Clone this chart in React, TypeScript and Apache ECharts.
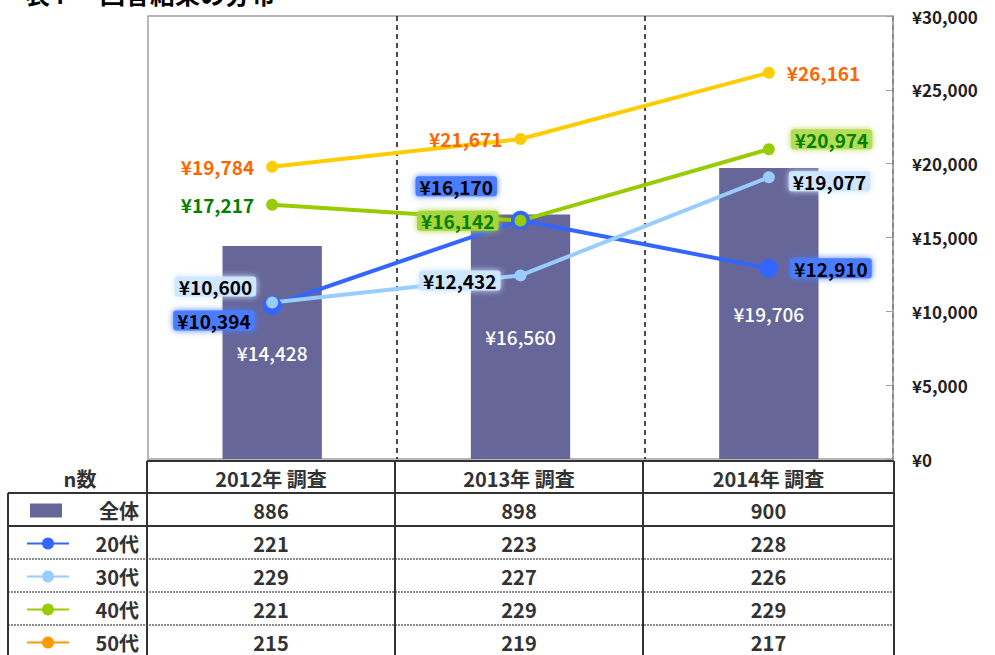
import React, { useEffect, useRef } from "react";
import * as echarts from "echarts";

const categories = ["2012年 調査", "2013年 調査", "2014年 調査"];
const overall = [14428, 16560, 19706];
const age20 = [10394, 16170, 12910];
const age30 = [10600, 12432, 19077];
const age40 = [17217, 16142, 20974];
const age50 = [19784, 21671, 26161];

const tableRowNames = ["全体", "20代", "30代", "40代", "50代"];
const nOverall = [886, 898, 900];
const n20 = [221, 223, 228];
const n30 = [229, 227, 226];
const n40 = [221, 229, 229];
const n50 = [215, 219, 217];

const FONT = '"Noto Sans CJK JP", "Noto Sans", sans-serif';
const BAR_COLOR = "#666699";
const C20 = "#3366FF";
const C30 = "#99CCFF";
const C40 = "#99CC00";
const C50 = "#FFCC00";

const GRID_L = 148;
const GRID_R = 893;
const GRID_T = 16;
const GRID_B = 459;

const yen = (v: number) => "¥" + v.toLocaleString("en-US");

type LabelPlace = { position: string; offset?: number[]; distance?: number; bg?: string; color: string };

const place50: LabelPlace[] = [
  { position: "left", distance: 12, color: "#FF6600" },
  { position: "left", distance: 12, color: "#FF6600" },
  { position: "right", distance: 12, color: "#FF6600" },
];
const place40: LabelPlace[] = [
  { position: "left", distance: 12, color: "#008000" },
  { position: "left", distance: 16, color: "#008000", bg: "#A8D43C" },
  { position: "right", distance: 16, offset: [0, -10], color: "#008000", bg: "#B5DC55" },
];
const place30: LabelPlace[] = [
  { position: "left", distance: 10, offset: [0, -16], color: "#000", bg: "#CFE6FF" },
  { position: "left", distance: 14, offset: [0, 5], color: "#000", bg: "#CFE6FF" },
  { position: "right", distance: 14, offset: [0, 4], color: "#000", bg: "#CFE6FF" },
];
const place20: LabelPlace[] = [
  { position: "left", distance: 8, offset: [0, 15], color: "#000", bg: "#4A7BFF" },
  { position: "left", distance: 14, offset: [0, -34], color: "#000", bg: "#4A7BFF" },
  { position: "right", distance: 12, color: "#000", bg: "#4A7BFF" },
];

function lineData(values: number[], places: LabelPlace[]) {
  return values.map((v, i) => {
    const p = places[i];
    const label: any = {
      show: true,
      position: p.position,
      distance: p.distance,
      offset: p.offset || [0, 0],
      color: p.color,
      fontFamily: FONT,
      fontWeight: "bold",
      fontSize: 19,
      formatter: (d: any) => yen(d.value),
    };
    if (p.bg) {
      label.backgroundColor = p.bg;
      label.padding = [1, 4, 0, 4];
      label.borderRadius = 3;
      label.shadowBlur = 6;
      label.shadowColor = p.bg;
    }
    return { value: v, label };
  });
}

function lineSeries(name: string, color: string, values: number[], places: LabelPlace[], size: number) {
  return {
    name,
    type: "line",
    data: lineData(values, places),
    symbol: "circle",
    symbolSize: size,
    itemStyle: { color },
    lineStyle: { color, width: 4 },
    z: 3,
  };
}

function buildTable() {
  const els: any[] = [];
  const dark = "#333333";
  const colX = [GRID_L - 1, 395, 643, GRID_R + 1];
  const headerTop = 461;
  const rowTops = [493, 526, 559, 592, 625, 658];
  const left = 8;
  const textStyle = { fontFamily: FONT, fontWeight: "bold", fontSize: 20, lineHeight: 20, fill: "#333" };

  // title (cut off at the top of the page, as in the reference)
  els.push({ type: "text", x: 25, y: 5, style: { text: "表4", font: `bold 25px ${FONT}`, fill: "#000", verticalAlign: "bottom" } });
  els.push({ type: "text", x: 100, y: 5, style: { text: "回答結果の分布", font: `bold 25px ${FONT}`, fill: "#000", verticalAlign: "bottom" } });

  // header
  els.push({ type: "line", shape: { x1: colX[0], y1: headerTop, x2: colX[3], y2: headerTop }, style: { stroke: dark, lineWidth: 2 } });
  els.push({ type: "text", x: 80, y: (headerTop + rowTops[0]) / 2 + 1, style: { ...textStyle, text: "n数", align: "center", verticalAlign: "middle" } });
  categories.forEach((c, i) => {
    els.push({ type: "text", x: (colX[i] + colX[i + 1]) / 2, y: (headerTop + rowTops[0]) / 2 + 1, style: { ...textStyle, text: c, align: "center", verticalAlign: "middle" } });
  });

  // horizontal lines
  els.push({ type: "line", shape: { x1: left, y1: rowTops[0], x2: colX[3], y2: rowTops[0] }, style: { stroke: dark, lineWidth: 2 } });
  els.push({ type: "line", shape: { x1: left, y1: rowTops[1], x2: colX[3], y2: rowTops[1] }, style: { stroke: dark, lineWidth: 2 } });
  for (let r = 2; r <= 4; r++) {
    els.push({ type: "line", shape: { x1: left, y1: rowTops[r], x2: colX[3], y2: rowTops[r] }, style: { stroke: "#8a8a8a", lineWidth: 2, lineDash: [2, 1] } });
  }
  // vertical lines
  els.push({ type: "line", shape: { x1: left, y1: rowTops[0], x2: left, y2: 660 }, style: { stroke: dark, lineWidth: 2 } });
  colX.forEach((x) => {
    els.push({ type: "line", shape: { x1: x, y1: headerTop, x2: x, y2: 660 }, style: { stroke: dark, lineWidth: 2 } });
  });

  const rows = [nOverall, n20, n30, n40, n50];
  const rowColors = [BAR_COLOR, C20, C30, C40, "#FF9900"];
  rows.forEach((vals, r) => {
    const cy = (rowTops[r] + rowTops[r + 1]) / 2 + 1;
    if (r === 0) {
      els.push({ type: "rect", shape: { x: 30, y: cy - 7, width: 32, height: 14 }, style: { fill: BAR_COLOR } });
    } else {
      els.push({ type: "line", shape: { x1: 27, y1: cy, x2: 69, y2: cy }, style: { stroke: rowColors[r], lineWidth: 2 } });
      els.push({ type: "circle", shape: { cx: 48, cy, r: 6 }, style: { fill: rowColors[r] } });
    }
    els.push({ type: "text", x: 139, y: cy, style: { ...textStyle, text: tableRowNames[r], align: "right", verticalAlign: "middle" } });
    vals.forEach((v, i) => {
      els.push({ type: "text", x: (colX[i] + colX[i + 1]) / 2, y: cy, style: { ...textStyle, text: String(v), align: "center", verticalAlign: "middle" } });
    });
  });
  return els;
}

export default function App() {
  const ref = useRef<HTMLDivElement>(null);
  useEffect(() => {
    if (!ref.current) return;
    const chart = echarts.init(ref.current, null, { renderer: "svg" });
    chart.setOption({
      animation: false,
      grid: {
        left: GRID_L,
        right: 995 - GRID_R,
        top: GRID_T,
        bottom: 655 - GRID_B,
        show: true,
        borderColor: "#A0A0A0",
        borderWidth: 1.5,
      },
      xAxis: {
        type: "category",
        data: categories,
        boundaryGap: true,
        axisLabel: { show: false },
        axisTick: { show: false },
        axisLine: { show: false },
        splitLine: {
          show: true,
          interval: (i: number) => i === 1 || i === 2,
          lineStyle: { color: "#111", width: 1.5, type: [5, 4] },
        },
      },
      yAxis: {
        type: "value",
        position: "right",
        min: 0,
        max: 30000,
        interval: 5000,
        splitLine: { show: false },
        axisLine: { show: true, lineStyle: { color: "#A0A0A0", width: 1.5 } },
        axisTick: { show: true, inside: true, length: 7, lineStyle: { color: "#A0A0A0" } },
        axisLabel: {
          margin: 19,
          formatter: (v: number) => yen(v),
          color: "#222",
          fontFamily: FONT,
          fontWeight: "bold",
          fontSize: 17,
        },
      },
      series: [
        {
          name: "全体",
          type: "bar",
          data: overall,
          barWidth: "40%",
          itemStyle: { color: BAR_COLOR },
          label: {
            show: true,
            position: "inside",
            color: "#fff",
            fontFamily: FONT,
            fontWeight: 500,
            fontSize: 19,
            formatter: (d: any) => yen(d.value),
          },
          z: 2,
        },
        lineSeries("20代", C20, age20, place20, 19),
        lineSeries("30代", C30, age30, place30, 12),
        lineSeries("40代", C40, age40, place40, 12),
        lineSeries("50代", C50, age50, place50, 12),
      ],
      graphic: buildTable(),
    });
    return () => chart.dispose();
  }, []);
  return <div ref={ref} style={{ width: 995, height: 655, position: "absolute", left: 0, top: 0 }} />;
}
